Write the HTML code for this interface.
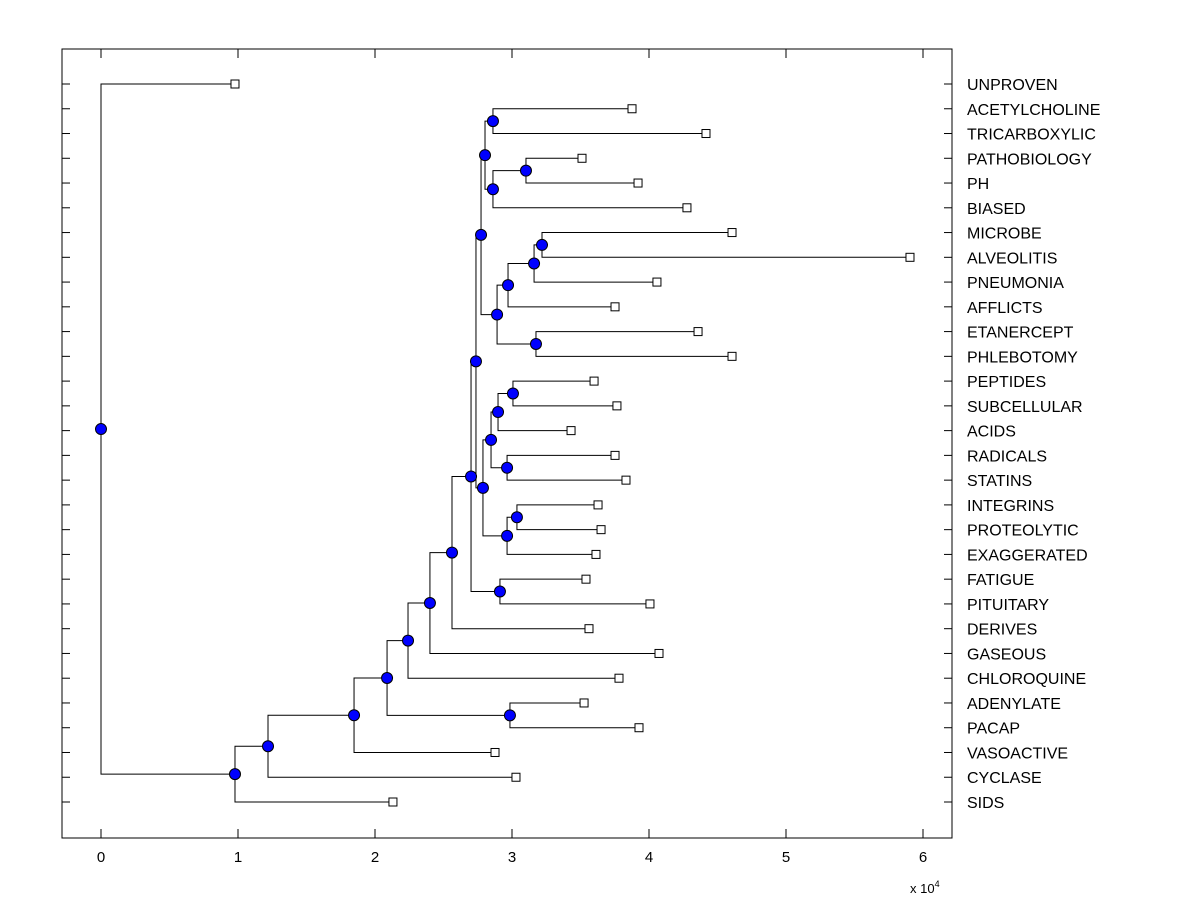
<!DOCTYPE html>
<html><head><meta charset="utf-8"><style>
html,body{margin:0;padding:0;background:#fff;}
svg{display:block;font-family:"Liberation Sans",Arial,sans-serif;}
</style></head><body>
<svg id="chart" width="1200" height="900"></svg>
<script>
const leafLabels=["UNPROVEN","ACETYLCHOLINE","TRICARBOXYLIC","PATHOBIOLOGY","PH","BIASED","MICROBE","ALVEOLITIS","PNEUMONIA","AFFLICTS","ETANERCEPT","PHLEBOTOMY","PEPTIDES","SUBCELLULAR","ACIDS","RADICALS","STATINS","INTEGRINS","PROTEOLYTIC","EXAGGERATED","FATIGUE","PITUITARY","DERIVES","GASEOUS","CHLOROQUINE","ADENYLATE","PACAP","VASOACTIVE","CYCLASE","SIDS"];
const leafValues=[0.978,3.876,4.416,3.511,3.920,4.277,4.606,5.905,4.058,3.752,4.358,4.606,3.599,3.766,3.431,3.752,3.832,3.628,3.650,3.613,3.540,4.007,3.562,4.073,3.781,3.526,3.927,2.876,3.029,2.131];
const nodeNames=["A","B","C","D","E","F","G","H","I","J","K","L","M","N","O","P","Q","R","S","T","U","V","W","X","Y","Z","AA","AB","ROOT"];
const nodeValues=[2.861,3.102,2.861,2.803,3.219,3.161,2.971,3.175,2.891,2.774,3.007,2.898,2.964,2.847,3.036,2.964,2.788,2.737,2.912,2.701,2.562,2.401,2.241,2.985,2.088,1.847,1.219,0.978,0];
const nodeChildren=[["ACETYLCHOLINE","TRICARBOXYLIC"],["PATHOBIOLOGY","PH"],["B","BIASED"],["A","C"],["MICROBE","ALVEOLITIS"],["E","PNEUMONIA"],["F","AFFLICTS"],["ETANERCEPT","PHLEBOTOMY"],["G","H"],["D","I"],["PEPTIDES","SUBCELLULAR"],["K","ACIDS"],["RADICALS","STATINS"],["L","M"],["INTEGRINS","PROTEOLYTIC"],["O","EXAGGERATED"],["N","P"],["J","Q"],["FATIGUE","PITUITARY"],["R","S"],["T","DERIVES"],["U","GASEOUS"],["V","CHLOROQUINE"],["ADENYLATE","PACAP"],["W","X"],["Y","VASOACTIVE"],["Z","CYCLASE"],["AA","SIDS"],["UNPROVEN","AB"]];
const xTicks=[0,1,2,3,4,5,6];

const svg=document.getElementById('chart');
const NS="http://www.w3.org/2000/svg";
const L=62,R=952,T=49,B=838;
const xs=v=>101+v*137;
const ys=i=>84+i*(802-84)/29;
function mk(tag,attrs,parent){const e=document.createElementNS(NS,tag);for(const k in attrs)e.setAttribute(k,attrs[k]);(parent||svg).appendChild(e);return e;}
const pos={};
leafLabels.forEach((n,i)=>{pos[n]={x:xs(leafValues[i]),y:ys(i)};});
nodeNames.forEach((n,i)=>{const c=nodeChildren[i];pos[n]={x:xs(nodeValues[i]),y:(pos[c[0]].y+pos[c[1]].y)/2};});

let f=mk('rect',{x:L,y:T,width:R-L,height:B-T,fill:'none',stroke:'#000','stroke-width':1});


leafLabels.forEach((n,i)=>{
  const y=ys(i);
  let t1=mk('line',{x1:L,y1:y,x2:L+8,y2:y,stroke:'#000'});
  
  
  let t2=mk('line',{x1:R-8,y1:y,x2:R,y2:y,stroke:'#000'});
  
  
  let tx=mk('text',{x:967,y:y+6,'font-size':16,fill:'#000'});
  tx.textContent=n;
  
  
});
xTicks.forEach(v=>{
  const x=xs(v);
  let a=mk('line',{x1:x,y1:B,x2:x,y2:B-9,stroke:'#000'});
  
  
  let b=mk('line',{x1:x,y1:T,x2:x,y2:T+9,stroke:'#000'});
  
  
  let t=mk('text',{x:x,y:862,'font-size':15,'text-anchor':'middle'});
  t.textContent=v;
  
  
});
let ex=mk('text',{x:910,y:893,'font-size':13});
ex.innerHTML='x 10<tspan dy="-6" font-size="9">4</tspan>';



nodeNames.forEach((n,i)=>{
  const p=pos[n];const c=nodeChildren[i];
  const a=pos[c[0]],b=pos[c[1]];
  let d=mk('path',{d:`M${a.x},${a.y}H${p.x}V${b.y}H${b.x}`,fill:'none',stroke:'#000','stroke-width':1});
  
  
});
leafLabels.forEach((n,i)=>{
  const p=pos[n];
  let r=mk('rect',{x:p.x-4,y:p.y-4,width:8,height:8,fill:'#fff',stroke:'#000'});
  
  
});
nodeNames.forEach((n,i)=>{
  const p=pos[n];
  let c=mk('circle',{cx:p.x,cy:p.y,r:5.5,fill:'#0000ff',stroke:'#000','stroke-width':1});
  
  
});
</script>
</body></html>
